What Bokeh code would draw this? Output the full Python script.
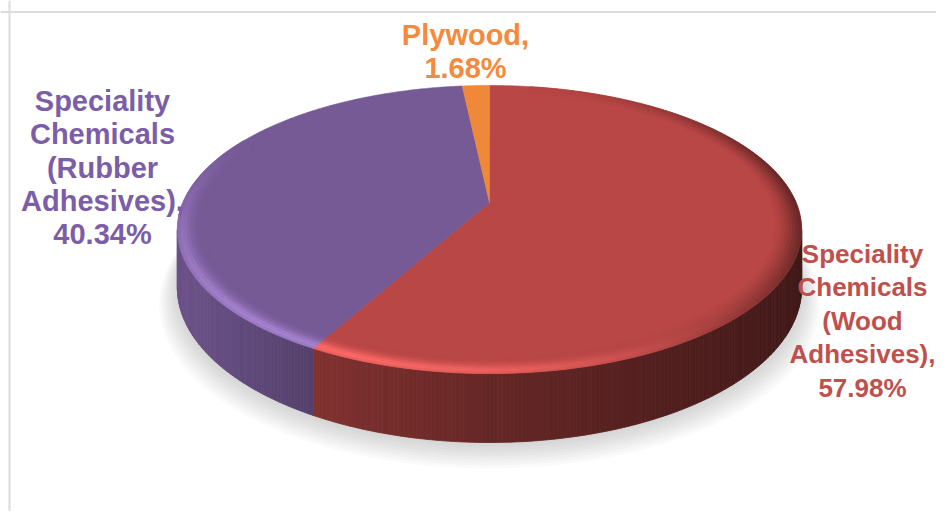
import numpy as np
from bokeh.plotting import figure
from bokeh.models import Range1d, Span
from bokeh.core.properties import value
from bokeh.embed import file_html
from bokeh.resources import INLINE

# ---------------- data ----------------
categories = ["Speciality Chemicals (Wood Adhesives)",
              "Speciality Chemicals (Rubber Adhesives)",
              "Plywood"]
shares = [57.98, 40.34, 1.68]
label_names = [["Speciality", "Chemicals", "(Wood", "Adhesives),"],
               ["Speciality", "Chemicals", "(Rubber", "Adhesives),"],
               ["Plywood,"]]

# ---------------- style ----------------
top_colors = ["#B84745", "#765A96", "#F0883A"]
text_colors = ["#C0504D", "#7B5EA7", "#F58A3C"]
side_gain = [1.0, 1.02, 1.0]
label_anchor = [(862, 253), (102, 100.5), (465, 34.5)]   # centre x, first baseline (px)
label_size = ["26px", "29px", "29px"]
label_step = [33.6, 33.3, 33.3]
FONT = "Liberation Sans"

W, HF = 936, 511

CX, CY = 489.0, 202.0          # apex of the slices
A, B, K = 306.6, 139.0, 0.1875  # ellipse radii and perspective
DEPTH = 56.0                    # thickness of the disc


def hex2rgb(h):
    h = h.lstrip("#")
    return np.array([int(h[i:i + 2], 16) for i in (0, 2, 4)], dtype=float)


def rgb2hex(c):
    c = np.clip(np.round(c), 0, 255).astype(int)
    return "#%02x%02x%02x" % tuple(c)


def proj(theta_deg, r=1.0, drop=0.0):
    t = np.radians(theta_deg)
    u = r * np.sin(t)
    v = -r * np.cos(t)
    d = 1.0 - K * v
    d_rim = 1.0 - K * (-np.cos(t))
    x = CX + A * u / d
    y = CY + B * v / d + drop / d_rim
    return x, y


p = figure(width=W, height=HF, output_backend="svg", toolbar_location=None,
           x_range=Range1d(0, W), y_range=Range1d(HF, 0),
           min_border=0, outline_line_color=None,
           background_fill_color="white", border_fill_color="white")
p.axis.visible = False
p.grid.visible = False

# frame lines of the original chart area
p.add_layout(Span(location=11.5, dimension="width", line_color="#dcdcdc", line_width=2))
p.add_layout(Span(location=9, dimension="height", line_color="#dcdcdc", line_width=2))

cum = np.concatenate([[0.0], np.cumsum(shares)]) / 100.0 * 360.0

# ---------------- shadow ----------------
full = np.linspace(0, 360, 361)
for i in range(9):
    sx, sy = proj(full, r=1.0 + 0.007 * i, drop=DEPTH)
    p.patch(sx, sy + 2 + 1.5 * i, fill_color="#7a7a7a", fill_alpha=0.035,
            line_color=None)

# ---------------- sides ----------------
phi = np.degrees(np.arccos(K))
vis_lo, vis_hi = 180 - phi, 180 + phi
side_xs, side_ys, side_cols = [], [], []
for i in range(len(shares)):
    a0, a1 = max(cum[i], vis_lo), min(cum[i + 1], vis_hi)
    if a1 <= a0:
        continue
    n = max(2, int((a1 - a0) / 0.6))
    th = np.linspace(a0, a1, n + 1)
    tx, ty = proj(th)
    bx, by = proj(th, drop=DEPTH)
    base = hex2rgb(top_colors[i])
    for j in range(n):
        side_xs.append([tx[j], tx[j + 1], bx[j + 1], bx[j]])
        side_ys.append([ty[j], ty[j + 1], by[j + 1], by[j]])
        xm = 0.5 * (tx[j] + tx[j + 1])
        f = np.interp(xm, [177, 315, 489, 801], [0.9, 0.7, 0.55, 0.36]) * side_gain[i]
        side_cols.append(rgb2hex(np.minimum(base * min(f, 1.0), 255)))
p.patches(side_xs, side_ys, fill_color=side_cols, line_color=side_cols, line_width=0.8)

# ---------------- top faces ----------------
top_xs, top_ys = [], []
for i in range(len(shares)):
    th = np.linspace(cum[i], cum[i + 1], max(3, int((cum[i + 1] - cum[i]) / 0.5)))
    ax, ay = proj(th)
    top_xs.append(np.concatenate([[CX], ax]))
    top_ys.append(np.concatenate([[CY], ay]))
p.patches(top_xs, top_ys, fill_color=top_colors, line_color=top_colors, line_width=0.6)

# ---------------- bevel on the rim ----------------
radii = [1.0, 0.99, 0.98, 0.97, 0.96, 0.95, 0.94, 0.93, 0.92]
w_hl = [0.6, 0.95, 1.0, 0.75, 0.45, 0.22, 0.08, 0.0, 0.0]
w_dk = [1.0, 0.9, 0.75, 0.6, 0.45, 0.32, 0.2, 0.1, 0.0]
bx_all, by_all, bc_all = [], [], []
for i in range(len(shares)):
    base = hex2rgb(top_colors[i])
    light = np.minimum(base * 1.3 + 14, 255)
    dark = base * 0.45
    n = max(2, int((cum[i + 1] - cum[i]) / 0.75))
    th = np.linspace(cum[i], cum[i + 1], n + 1)
    for j in range(n):
        tm = np.radians(0.5 * (th[j] + th[j + 1]))
        u, v = np.sin(tm), -np.cos(tm)
        hl = np.clip(-0.55 * u + 0.85 * v, 0, 1) ** 1.5
        dk = np.clip(u, 0, 1) ** 2 * 0.85
        if hl < 0.02 and dk < 0.02:
            continue
        for k in range(len(radii) - 1):
            wh = 0.5 * (w_hl[k] + w_hl[k + 1])
            wd = 0.5 * (w_dk[k] + w_dk[k + 1])
            c = base + (light - base) * hl * wh
            c = c + (dark - c) * dk * wd
            x1, y1 = proj(th[j:j + 2], r=radii[k])
            x2, y2 = proj(th[j:j + 2], r=radii[k + 1])
            bx_all.append([x1[0], x1[1], x2[1], x2[0]])
            by_all.append([y1[0], y1[1], y2[1], y2[0]])
            bc_all.append(rgb2hex(c))
p.patches(bx_all, by_all, fill_color=bc_all, line_color=bc_all, line_width=0.5)

# ---------------- labels ----------------
for i in range(len(shares)):
    lines = label_names[i] + ["%.2f%%" % shares[i]]
    x0, y0 = label_anchor[i]
    p.text(x=[x0] * len(lines), y=[y0 + j * label_step[i] for j in range(len(lines))],
           text=lines, text_align="center", text_baseline="alphabetic",
           text_font=value(FONT), text_font_style="bold", text_font_size=label_size[i],
           text_color=text_colors[i])

open("out.html", "w").write(file_html(p, INLINE))
